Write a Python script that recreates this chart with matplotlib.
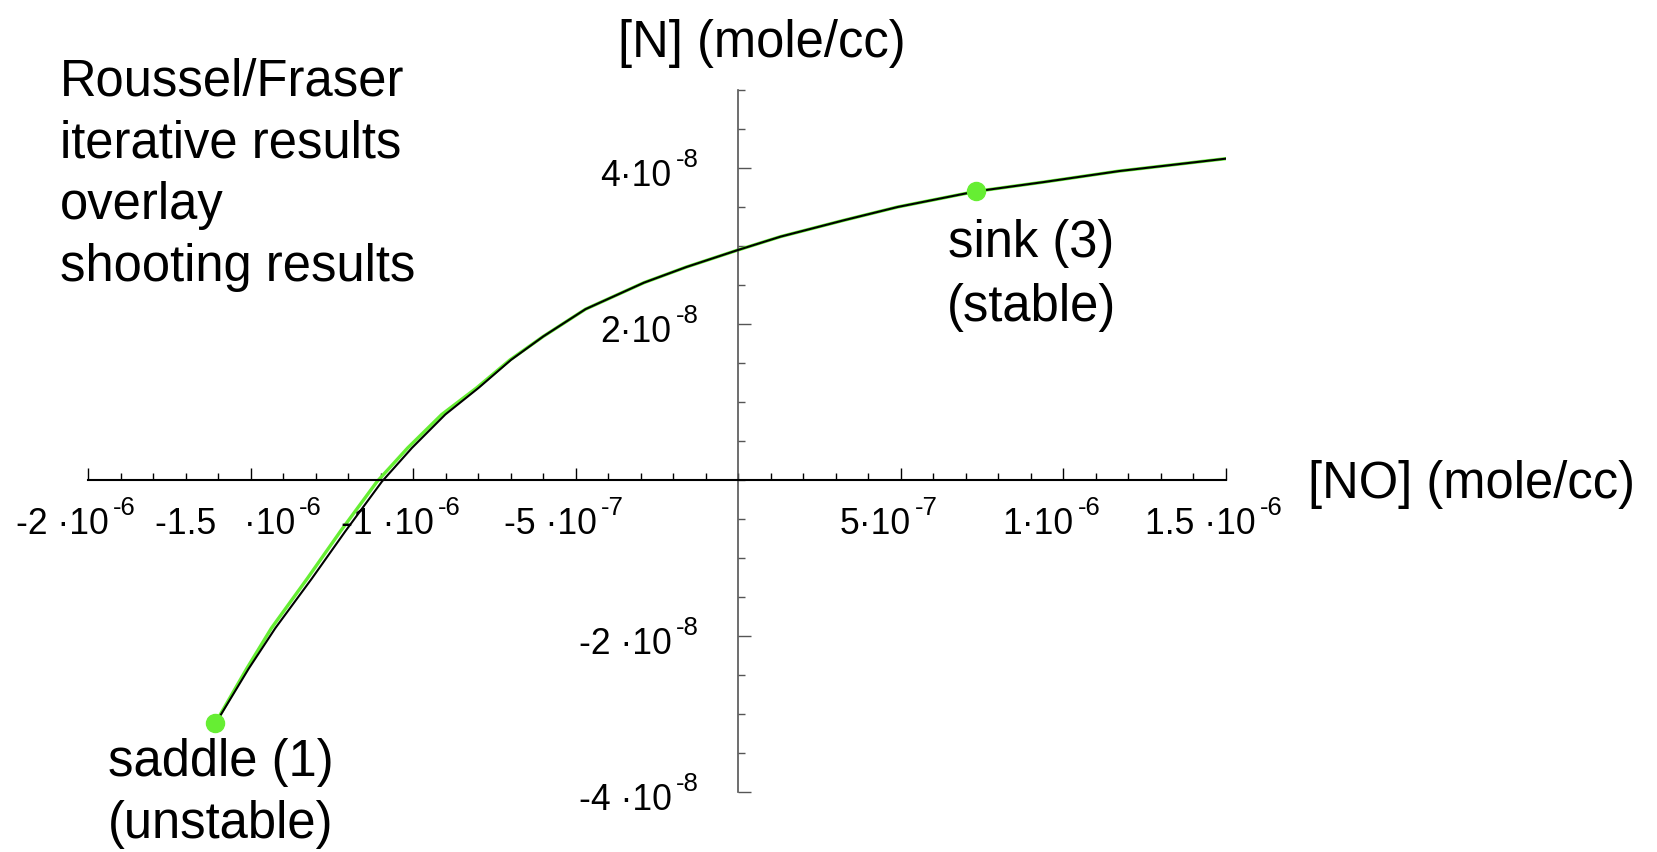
import numpy as np
import matplotlib.pyplot as plt
from matplotlib.transforms import ScaledTranslation

plt.rcParams['font.family'] = ['Liberation Sans', 'DejaVu Sans']

# shooting results (black), [NO] in 1e-7 mole/cc, [N] in 1e-8 mole/cc
no_shoot = np.array([-16.09, -15.93, -15.06, -14.24, -13.11, -12.09, -10.96, -10.04,
                     -9.01, -7.99, -6.99, -6.0, -4.7, -2.9, -1.6, 0.0, 1.3, 3.25,
                     4.9, 7.31, 9.4, 11.7, 15.0]) * 1e-7
n_shoot = np.array([-3.12, -3.02, -2.42, -1.90, -1.26, -0.66, -0.02, 0.41,
                    0.84, 1.18, 1.54, 1.84, 2.19, 2.53, 2.73, 2.95, 3.12, 3.33,
                    3.50, 3.70, 3.82, 3.96, 4.12]) * 1e-8

# Roussel/Fraser iterative results (green)
no_iter = np.array([-16.09, -15.95, -15.12, -14.36, -13.25, -12.24, -11.11, -10.17,
                    -9.12, -8.05, -7.02, -6.0, -4.7, -2.9, -1.6, 0.0, 1.3, 3.25,
                    4.9, 7.31, 9.4, 11.7, 15.0]) * 1e-7
n_iter = n_shoot.copy()

# fixed points
saddle = (-16.09e-7, -3.12e-8)
sink = (7.31e-7, 3.70e-8)

x_major = [-2e-6, -1.5e-6, -1e-6, -5e-7, 5e-7, 1e-6, 1.5e-6]
x_main = ['-2 ·10', '-1.5\u2002 ·10', '-1 ·10', '-5 ·10', '5·10', '1·10', '1.5 ·10']
x_sup = ['-6', '-6', '-6', '-7', '-7', '-6', '-6']
y_major = [-4e-8, -2e-8, 2e-8, 4e-8]
y_main = ['-4 ·10', '-2 ·10', '2·10', '4·10']
y_sup = ['-8', '-8', '-8', '-8']

W, H = 1657, 853
fig = plt.figure(figsize=(W / 100, H / 100), dpi=100)
ax = fig.add_axes([88 / W, 1 - 793 / H, (1226 - 88) / W, (793 - 91) / H])
ax.set_xlim(-2e-6, 1.5e-6)
ax.set_ylim(-4e-8, 5e-8)

green = '#66EE33'
ax.plot(no_iter, n_iter, color=green, lw=2.4, zorder=2)
ax.plot(no_shoot, n_shoot, color='black', lw=1.5, zorder=3)
ax.plot(*saddle, 'o', color=green, ms=13, zorder=4)
ax.plot(*sink, 'o', color=green, ms=13, zorder=4)

# axes through origin, Mathematica style
for s in ['top', 'right']:
    ax.spines[s].set_visible(False)
ax.spines['left'].set_position(('data', 0))
ax.spines['bottom'].set_position(('data', 0))
ax.spines['left'].set_color('#555555')
ax.spines['left'].set_linewidth(1.2)
ax.spines['bottom'].set_linewidth(1.5)

ax.set_xticks(x_major)
ax.set_xticks(np.arange(-20, 16) * 1e-7, minor=True)
ax.set_yticks(y_major)
ax.set_yticks(np.arange(-8, 11) * 5e-9, minor=True)
ax.tick_params(axis='x', which='major', direction='in', length=9, width=1, labelbottom=False)
ax.tick_params(axis='x', which='minor', direction='in', length=5, width=1)
ax.tick_params(axis='y', which='major', direction='in', length=9, width=1, labelleft=False,
               color='#555555')
ax.tick_params(axis='y', which='minor', direction='in', length=5, width=1, color='#555555')

# tick labels "a·10^b" built from two texts
rend = fig.canvas.get_renderer()
GAP = 4


def tick_label(xv, yv, main, sup, on_x):
    t1 = ax.text(xv, yv, main, fontsize=25.6, ha='left', va='baseline')
    t2 = ax.text(xv, yv, sup, fontsize=18.5, ha='left', va='baseline')
    w1 = t1.get_window_extent(rend).width
    w2 = t2.get_window_extent(rend).width
    if on_x:
        x0 = -(w1 + GAP + w2) / 2 - 12
        dy = -53
    else:
        x0 = -(w1 + GAP + w2) - 40
        dy = -17
    t1.set_transform(ax.transData + ScaledTranslation(x0 / 100, dy / 100, fig.dpi_scale_trans))
    t2.set_transform(ax.transData + ScaledTranslation((x0 + w1 + GAP) / 100, (dy + 19) / 100,
                                                      fig.dpi_scale_trans))


for xv, m, s in zip(x_major, x_main, x_sup):
    tick_label(xv, 0, m, s, True)
for yv, m, s in zip(y_major, y_main, y_sup):
    tick_label(0, yv, m, s, False)

FS = 36.5

# axis titles
fig.text(762 / W, 1 - 43 / H, '[N] (mole/cc)', fontsize=FS, ha='center', va='center')
fig.text(1308 / W, 1 - 485 / H, '[NO] (mole/cc)', fontsize=FS, ha='left', va='center')

# note block
note = ['Roussel/Fraser', 'iterative results', 'overlay', 'shooting results']
for i, line in enumerate(note):
    fig.text(60 / W, 1 - (96 + 61.7 * i) / H, line, fontsize=FS, ha='left', va='baseline')

# fixed point labels
fig.text(1031 / W, 1 - 244 / H, 'sink (3)', fontsize=FS, ha='center', va='center')
fig.text(1031 / W, 1 - 307 / H, '(stable)', fontsize=FS, ha='center', va='center')
fig.text(221 / W, 1 - 763 / H, 'saddle (1)', fontsize=FS, ha='center', va='center')
fig.text(221 / W, 1 - 825 / H, '(unstable)', fontsize=FS, ha='center', va='center')

fig.savefig('out.png', dpi=100)
